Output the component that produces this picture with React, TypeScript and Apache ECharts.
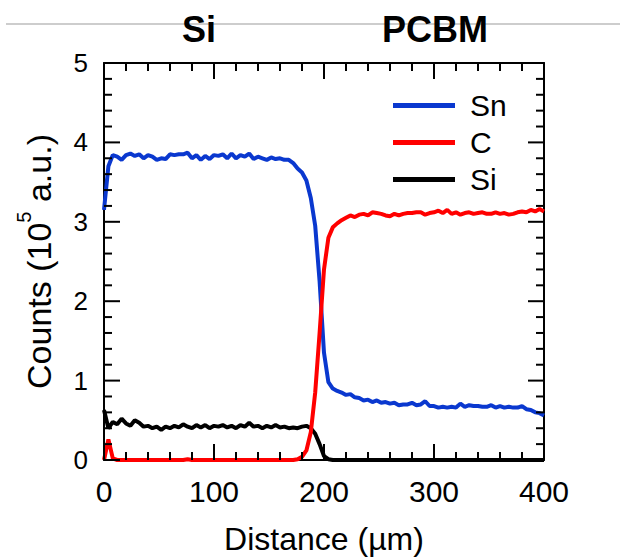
import React, { useEffect, useRef } from "react";
import * as echarts from "echarts";

const distance = [
  0, 4, 8, 12, 16, 20, 24, 28, 32, 36, 40, 44, 48, 52, 56, 60, 64, 68, 72, 76,
  80, 84, 88, 92, 96, 100, 104, 108, 112, 116, 120, 124, 128, 132, 136, 140, 144, 148, 152, 156,
  160, 164, 168, 172, 176, 180, 184, 188, 192, 196, 200, 204, 208, 212, 216, 220, 224, 228, 232, 236,
  240, 244, 248, 252, 256, 260, 264, 268, 272, 276, 280, 284, 288, 292, 296, 300, 304, 308, 312, 316,
  320, 324, 328, 332, 336, 340, 344, 348, 352, 356, 360, 364, 368, 372, 376, 380, 384, 388, 392, 396,
  400,
];

const snCounts = [
  3.15, 3.7, 3.84, 3.82, 3.78, 3.84, 3.86, 3.83, 3.85, 3.8, 3.84, 3.82, 3.78, 3.8, 3.79, 3.85, 3.84, 3.85, 3.85, 3.87,
  3.8, 3.84, 3.78, 3.83, 3.79, 3.84, 3.83, 3.85, 3.8, 3.86, 3.8, 3.84, 3.82, 3.86, 3.79, 3.82, 3.8, 3.78, 3.81, 3.79,
  3.8, 3.78, 3.78, 3.74, 3.67, 3.62, 3.52, 3.3, 2.95, 2.25, 1.35, 0.98, 0.9, 0.87, 0.85, 0.82, 0.83, 0.79, 0.78, 0.75,
  0.76, 0.73, 0.75, 0.72, 0.73, 0.71, 0.72, 0.69, 0.7, 0.7, 0.72, 0.69, 0.7, 0.74, 0.68, 0.68, 0.66, 0.67, 0.66, 0.67,
  0.66, 0.71, 0.67, 0.69, 0.68, 0.68, 0.67, 0.67, 0.69, 0.66, 0.68, 0.66, 0.67, 0.66, 0.66, 0.68, 0.64, 0.63, 0.6, 0.59,
  0.56,
];

const cCounts = [
  0.0, 0.26, 0.02, 0.0, 0.0, 0.0, 0.0, 0.0, 0.0, 0.0, 0.0, 0.0, 0.0, 0.0, 0.0, 0.0, 0.0, 0.0, 0.0, 0.01,
  0.0, 0.0, 0.0, 0.0, 0.0, 0.0, 0.0, 0.0, 0.0, 0.0, 0.0, 0.0, 0.0, 0.0, 0.0, 0.0, 0.0, 0.0, 0.0, 0.0,
  0.0, 0.0, 0.0, 0.0, 0.01, 0.04, 0.12, 0.35, 0.85, 1.6, 2.4, 2.8, 2.93, 2.98, 3.02, 3.05, 3.08, 3.06, 3.09, 3.1,
  3.08, 3.12, 3.11, 3.1, 3.08, 3.07, 3.1, 3.08, 3.1, 3.11, 3.11, 3.12, 3.12, 3.09, 3.11, 3.12, 3.14, 3.11, 3.15, 3.1,
  3.12, 3.09, 3.11, 3.12, 3.1, 3.11, 3.12, 3.1, 3.1, 3.12, 3.1, 3.11, 3.09, 3.1, 3.12, 3.13, 3.12, 3.15, 3.13, 3.16,
  3.13,
];

const siCounts = [
  0.63, 0.4, 0.48, 0.45, 0.52, 0.46, 0.43, 0.5, 0.47, 0.42, 0.43, 0.4, 0.42, 0.38, 0.42, 0.4, 0.43, 0.41, 0.45, 0.42,
  0.4, 0.44, 0.41, 0.44, 0.4, 0.43, 0.42, 0.44, 0.41, 0.43, 0.4, 0.44, 0.42, 0.47, 0.42, 0.43, 0.4, 0.43, 0.41, 0.44,
  0.41, 0.42, 0.4, 0.41, 0.4, 0.42, 0.43, 0.4, 0.33, 0.2, 0.05, 0.01, 0.0, 0.0, 0.0, 0.0, 0.0, 0.0, 0.0, 0.0,
  0.0, 0.0, 0.0, 0.0, 0.0, 0.0, 0.0, 0.0, 0.0, 0.0, 0.0, 0.0, 0.0, 0.0, 0.0, 0.0, 0.0, 0.0, 0.0, 0.0,
  0.0, 0.0, 0.0, 0.0, 0.0, 0.0, 0.0, 0.0, 0.0, 0.0, 0.0, 0.0, 0.0, 0.0, 0.0, 0.0, 0.0, 0.0, 0.0, 0.0,
  0.0,
];

const seriesNames = ["Sn", "C", "Si"];
const seriesColors = ["#0a38cf", "#ff0000", "#000000"];
const regionLabels = ["Si", "PCBM"];
const regionCenters = [199, 435];

// Tick positions (major ticks carry labels, minor ticks are unlabeled)
const xMajorTicks = [0, 100, 200, 300, 400];
const xMinorTicks = [20, 40, 60, 80, 120, 140, 160, 180, 220, 240, 260, 280, 320, 340, 360, 380];
const yMajorTicks = [0, 1, 2, 3, 4, 5];
const yMinorTicks = [0.2, 0.4, 0.6, 0.8, 1.2, 1.4, 1.6, 1.8, 2.2, 2.4, 2.6, 2.8, 3.2, 3.4, 3.6, 3.8, 4.2, 4.4, 4.6, 4.8];

const X_MIN = 0;
const X_MAX = 400;
const Y_MIN = 0;
const Y_MAX = 5;

const GRID_LEFT = 104;
const GRID_TOP = 63;
const GRID_W = 440;
const GRID_H = 405;

const FONT = "'Liberation Sans', Arial, Helvetica, sans-serif";

function pairs(values: number[]) {
  return values.map((v, i) => [distance[i], v]);
}

const LINE = { show: true, onZero: false, lineStyle: { color: "#000", width: 2 } };
const MAJOR_LEN = 16;
const MINOR_LEN = 8;

export default function App() {
  const ref = useRef<HTMLDivElement>(null);

  useEffect(() => {
    document.body.style.margin = "0";
    if (!ref.current) return;
    const chart = echarts.init(ref.current, null, { renderer: "svg" });

    const dataSets = [snCounts, cCounts, siCounts];
    const zs = [3, 4, 2];

    const baseGraphic: any[] = [
      {
        type: "line",
        z: 0,
        shape: { x1: 6, y1: 24, x2: 620, y2: 24 },
        style: { stroke: "#bdbdbd", lineWidth: 1.5 },
      },
      ...regionLabels.map((t, i) => ({
        type: "text",
        z: 10,
        x: regionCenters[i],
        y: 29,
        style: {
          text: t,
          fontFamily: FONT,
          fontSize: 36,
          fontWeight: "bold",
          fill: "#000",
          textAlign: "center",
          textVerticalAlign: "middle",
        },
      })),
    ];

    chart.setOption({
      animation: false,
      backgroundColor: "#fff",
      grid: { left: GRID_LEFT, top: GRID_TOP, width: GRID_W, height: GRID_H, containLabel: false },
      legend: {
        orient: "vertical",
        left: 393,
        top: 90,
        padding: 0,
        data: seriesNames,
        itemWidth: 62,
        itemHeight: 5,
        itemGap: 6,
        icon: "rect",
        textStyle: { fontFamily: FONT, fontSize: 30, color: "#000", padding: [0, 0, 0, 10], lineHeight: 31 },
      },
      xAxis: [
        {
          type: "value",
          min: X_MIN,
          max: X_MAX,
          interval: 100,
          position: "bottom",
          axisLine: LINE,
          axisTick: { show: false },
          splitLine: { show: false },
          axisLabel: { fontFamily: FONT, fontSize: 30, color: "#000", margin: 16 },
          name: "Distance (µm)",
          nameLocation: "middle",
          nameGap: 63,
          nameTextStyle: { fontFamily: FONT, fontSize: 32, color: "#000" },
        },
        {
          type: "value",
          min: X_MIN,
          max: X_MAX,
          interval: 100,
          position: "top",
          axisLine: LINE,
          axisTick: { show: false },
          splitLine: { show: false },
          axisLabel: { show: false },
        },
      ],
      yAxis: [
        {
          type: "value",
          min: Y_MIN,
          max: Y_MAX,
          interval: 1,
          position: "left",
          axisLine: LINE,
          axisTick: { show: false },
          splitLine: { show: false },
          axisLabel: { fontFamily: FONT, fontSize: 26, color: "#000", margin: 16 },
          name: "{a|Counts (10}{s|5}{a| a.u.)}",
          nameLocation: "middle",
          nameGap: 40,
          nameTextStyle: {
            fontFamily: FONT,
            color: "#000",
            rich: {
              a: { fontFamily: FONT, fontSize: 34, color: "#000" },
              s: { fontFamily: FONT, fontSize: 20, color: "#000", padding: [0, 0, 30, 0] },
            },
          },
        },
        {
          type: "value",
          min: Y_MIN,
          max: Y_MAX,
          interval: 1,
          position: "right",
          axisLine: LINE,
          axisTick: { show: false },
          splitLine: { show: false },
          axisLabel: { show: false },
        },
      ],
      graphic: baseGraphic,
      series: seriesNames.map((name, i) => ({
        name,
        type: "line",
        xAxisIndex: 0,
        yAxisIndex: 0,
        data: pairs(dataSets[i]),
        showSymbol: false,
        symbol: "none",
        z: zs[i],
        color: seriesColors[i],
        lineStyle: { color: seriesColors[i], width: 4 },
        itemStyle: { color: seriesColors[i] },
      })),
    });

    // Pixel position of a tick value: ask the chart's scale first, fall back to the grid rect.
    const xPx = (v: number) => {
      const p = chart.convertToPixel({ xAxisIndex: 0 }, v) as any;
      const n = Array.isArray(p) ? p[0] : p;
      return Number.isFinite(n) ? n : GRID_LEFT + ((v - X_MIN) / (X_MAX - X_MIN)) * GRID_W;
    };
    const yPx = (v: number) => {
      const p = chart.convertToPixel({ yAxisIndex: 0 }, v) as any;
      const n = Array.isArray(p) ? p[1] : p;
      return Number.isFinite(n) ? n : GRID_TOP + GRID_H - ((v - Y_MIN) / (Y_MAX - Y_MIN)) * GRID_H;
    };
    const bottom = yPx(Y_MIN);
    const top = yPx(Y_MAX);
    const left = xPx(X_MIN);
    const right = xPx(X_MAX);

    const tickStyle = { stroke: "#000000", lineWidth: 2, fill: "none" };
    const ticks: any[] = [];
    const addX = (v: number, len: number) => {
      const x = xPx(v);
      ticks.push({ type: "line", z: 50, shape: { x1: x, y1: bottom, x2: x, y2: bottom - len }, style: tickStyle });
      ticks.push({ type: "line", z: 50, shape: { x1: x, y1: top, x2: x, y2: top + len }, style: tickStyle });
    };
    const addY = (v: number, len: number) => {
      const y = yPx(v);
      ticks.push({ type: "line", z: 50, shape: { x1: left, y1: y, x2: left + len, y2: y }, style: tickStyle });
      ticks.push({ type: "line", z: 50, shape: { x1: right, y1: y, x2: right - len, y2: y }, style: tickStyle });
    };
    xMajorTicks.forEach((v) => addX(v, MAJOR_LEN));
    xMinorTicks.forEach((v) => addX(v, MINOR_LEN));
    yMajorTicks.forEach((v) => addY(v, MAJOR_LEN));
    yMinorTicks.forEach((v) => addY(v, MINOR_LEN));

    chart.setOption({ graphic: [...baseGraphic, ...ticks] });

    return () => chart.dispose();
  }, []);

  return <div ref={ref} style={{ width: 620, height: 560 }} />;
}
